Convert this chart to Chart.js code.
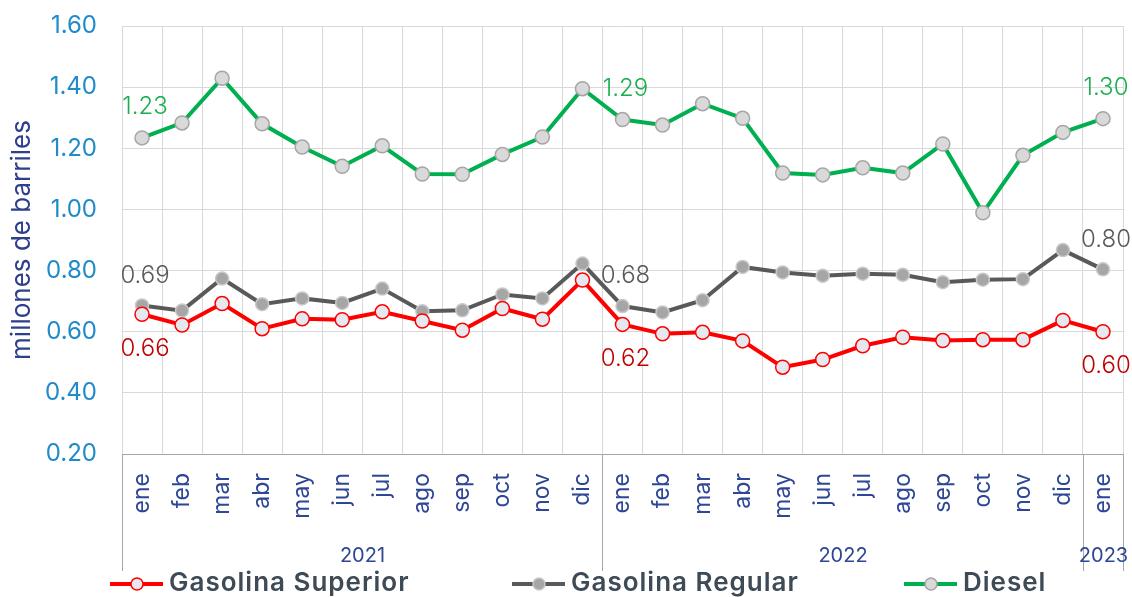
<!DOCTYPE html>
<html>
<head>
<meta charset="utf-8">
<title>Combustibles - millones de barriles</title>
<script src="https://cdn.jsdelivr.net/npm/chart.js@4.4.0/dist/chart.umd.min.js"></script>
<style>
    body { margin: 0; background: #fff; }
    #wrap { width: 1132px; height: 597px; }
</style>
</head>
<body>
<div id="wrap"><canvas id="myChart" width="1132" height="597"></canvas></div>
<script>
// data
var months = ['ene', 'feb', 'mar', 'abr', 'may', 'jun', 'jul', 'ago', 'sep', 'oct', 'nov', 'dic',
              'ene', 'feb', 'mar', 'abr', 'may', 'jun', 'jul', 'ago', 'sep', 'oct', 'nov', 'dic',
              'ene'];
var years = ['2021', '2022', '2023'];
var yearStarts = [0, 12, 24];

var superiorValues = [0.657, 0.622, 0.692, 0.610, 0.642, 0.639, 0.665, 0.635, 0.605, 0.676, 0.641, 0.769,
                      0.624, 0.593, 0.598, 0.570, 0.484, 0.509, 0.554, 0.582, 0.571, 0.574, 0.574, 0.637,
                      0.600];
var regularValues = [0.686, 0.669, 0.774, 0.690, 0.709, 0.694, 0.741, 0.667, 0.670, 0.722, 0.709, 0.823,
                     0.684, 0.663, 0.703, 0.812, 0.794, 0.783, 0.790, 0.786, 0.762, 0.770, 0.772, 0.867,
                     0.804];
var dieselValues = [1.234, 1.283, 1.429, 1.280, 1.204, 1.141, 1.208, 1.116, 1.115, 1.180, 1.237, 1.395,
                    1.294, 1.276, 1.346, 1.298, 1.119, 1.113, 1.136, 1.119, 1.214, 0.989, 1.177, 1.252,
                    1.297];

var yMin = 0.2, yMax = 1.6, yStep = 0.2;
var labelIndexes = [0, 12, 24];

var FONT = "Inter, 'Open Sans', sans-serif";

// keep chart area where the original has it, no auto padding from the scales
function noPadding(scale) {
    scale.paddingTop = 0;
    scale.paddingBottom = 0;
    scale.paddingLeft = 0;
    scale.paddingRight = 0;
}

/* year groups under the month labels */
var groupPlugin = {
    id: 'groups',
    afterDraw: function (chart) {
        var ctx = chart.ctx;
        var x = chart.scales.x;
        var area = chart.chartArea;
        var half = (x.getPixelForTick(1) - x.getPixelForTick(0)) / 2;
        var edges = [];
        yearStarts.forEach(function (s) { edges.push(Math.round(x.getPixelForTick(s) - half) + 0.5); });
        edges.push(Math.round(area.right) + 0.5);

        ctx.save();
        ctx.strokeStyle = '#a6a6a6';
        ctx.lineWidth = 1;
        edges.forEach(function (e) {
            ctx.beginPath();
            ctx.moveTo(e, area.bottom);
            ctx.lineTo(e, 571);
            ctx.stroke();
        });
        ctx.fillStyle = '#2e4696';
        ctx.font = '20px ' + FONT;
        ctx.textAlign = 'center';
        ctx.textBaseline = 'middle';
        years.forEach(function (y, i) {
            ctx.fillText(y, (edges[i] + edges[i + 1]) / 2, 556);
        });
        ctx.restore();
    }
};

/* value labels on first, middle and last point */
var labelPlugin = {
    id: 'pointLabels',
    afterDatasetsDraw: function (chart) {
        var ctx = chart.ctx;
        ctx.save();
        ctx.font = '300 24px ' + FONT;
        ctx.textAlign = 'center';
        ctx.textBaseline = 'middle';
        chart.data.datasets.forEach(function (ds, i) {
            var meta = chart.getDatasetMeta(i);
            ctx.fillStyle = ds.labelColor;
            labelIndexes.forEach(function (idx) {
                var pt = meta.data[idx];
                ctx.fillText(ds.data[idx].toFixed(2), pt.x + 3, pt.y + ds.labelOffset);
            });
        });
        ctx.restore();
    }
};

/* legend at the bottom: line + marker + name */
var legendPlugin = {
    id: 'bottomLegend',
    afterDraw: function (chart) {
        var ctx = chart.ctx;
        var starts = [110, 512, 904];
        var y = 584;
        ctx.save();
        chart.data.datasets.forEach(function (ds, i) {
            var x0 = starts[i];
            ctx.strokeStyle = ds.borderColor;
            ctx.lineWidth = 4;
            ctx.beginPath();
            ctx.moveTo(x0, y);
            ctx.lineTo(x0 + 53, y);
            ctx.stroke();
            ctx.beginPath();
            ctx.arc(x0 + 27, y, 6, 0, Math.PI * 2);
            ctx.fillStyle = ds.pointBackgroundColor;
            ctx.fill();
            ctx.lineWidth = 1.5;
            ctx.strokeStyle = ds.pointBorderColor;
            ctx.stroke();
            ctx.fillStyle = '#3e4a55';
            ctx.font = '600 26px ' + FONT;
            ctx.letterSpacing = '1px';
            ctx.textAlign = 'left';
            ctx.textBaseline = 'middle';
            ctx.fillText(ds.label, x0 + 59, y - 1);
            ctx.letterSpacing = '0px';
        });
        ctx.restore();
    }
};

var ctx = document.getElementById('myChart').getContext('2d');

var data = {
    labels: months,
    datasets: [{
        label: 'Gasolina Superior',
        data: superiorValues,
        borderColor: '#ff0000',
        borderWidth: 4,
        pointBackgroundColor: '#e6e8ef',
        pointBorderColor: '#ff0000',
        pointBorderWidth: 1.5,
        pointRadius: 7,
        labelColor: '#c00000',
        labelOffset: 34,
        tension: 0
    }, {
        label: 'Gasolina Regular',
        data: regularValues,
        borderColor: '#595959',
        borderWidth: 4,
        pointBackgroundColor: '#a6a6a6',
        pointBorderColor: '#c9c9c9',
        pointBorderWidth: 1.5,
        pointRadius: 6.5,
        labelColor: '#595959',
        labelOffset: -30,
        tension: 0
    }, {
        label: 'Diesel',
        data: dieselValues,
        borderColor: '#00b050',
        borderWidth: 4,
        pointBackgroundColor: '#d9d9d9',
        pointBorderColor: '#a6a6a6',
        pointBorderWidth: 1.5,
        pointRadius: 7,
        labelColor: '#1aae4f',
        labelOffset: -31,
        tension: 0
    }]
};

var options = {
    responsive: false,
    animation: false,
    layout: { padding: { top: 26, right: 9, left: 0, bottom: 0 } },
    plugins: {
        legend: { display: false },
        tooltip: { enabled: false }
    },
    scales: {
        x: {
            offset: true,
            grid: { color: '#d9d9d9', offset: true, drawTicks: false },
            border: { color: '#a6a6a6' },
            ticks: {
                minRotation: 90,
                maxRotation: 90,
                autoSkip: false,
                padding: 19,
                color: '#2e4696',
                font: { family: FONT, size: 23 }
            },
            afterFit: function (scale) {
                scale.height = 143;
                noPadding(scale);
            }
        },
        y: {
            min: yMin,
            max: yMax,
            grid: { color: '#d9d9d9', drawTicks: false },
            border: { display: false },
            ticks: {
                stepSize: yStep,
                padding: 25,
                color: '#208bcb',
                font: { family: FONT, size: 24 },
                callback: function (v) { return v.toFixed(2); }
            },
            title: {
                display: true,
                text: 'millones de barriles',
                color: '#2e3f8c',
                font: { family: FONT, size: 26 },
                padding: { top: 7, bottom: 0 }
            },
            afterFit: function (scale) {
                scale.width = 122;
                noPadding(scale);
            }
        }
    }
};

var myChart = new Chart(ctx, {
    type: 'line',
    data: data,
    options: options,
    plugins: [groupPlugin, labelPlugin, legendPlugin]
});
</script>
</body>
</html>
